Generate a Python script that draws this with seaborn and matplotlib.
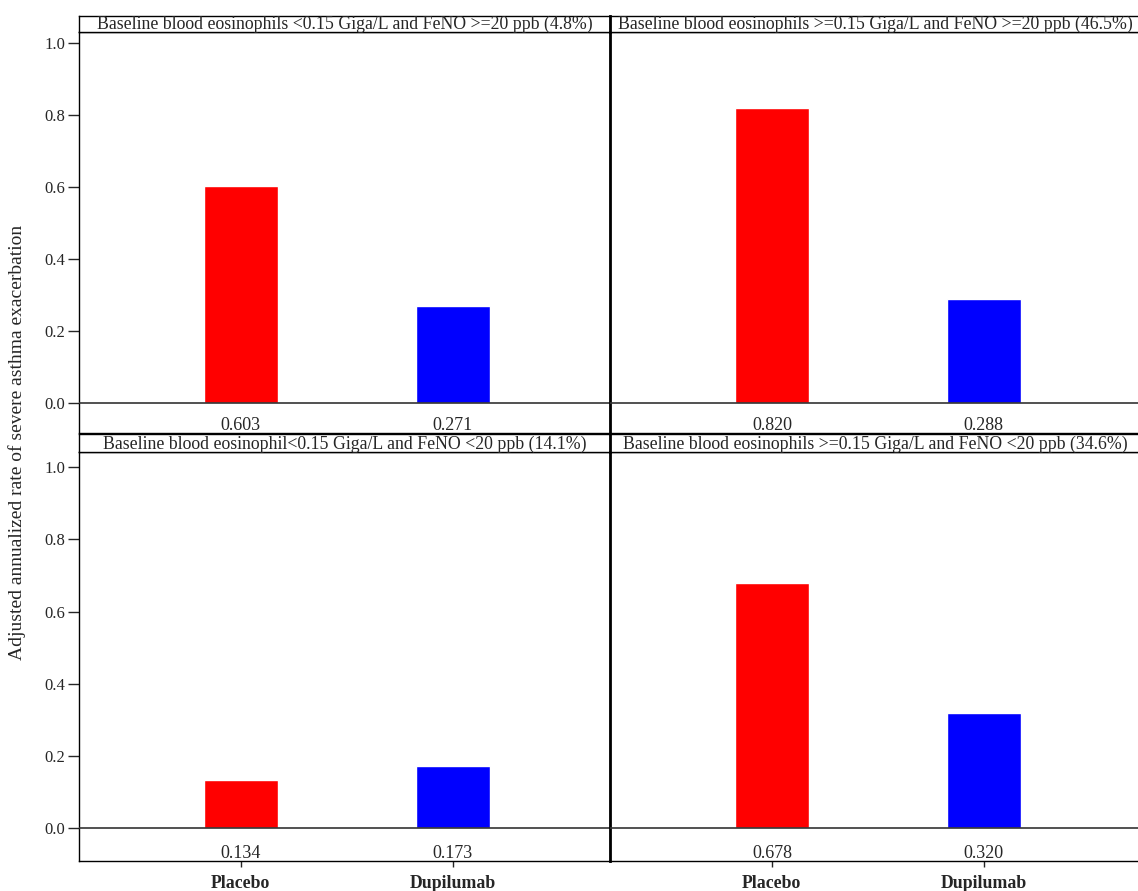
import pandas as pd
import matplotlib
matplotlib.use("Agg")
import matplotlib.pyplot as plt
import seaborn as sns

# data
treatments = ["Placebo", "Dupilumab"]
bar_colors = ["#ff0000", "#0000ff"]
panel_titles = [
    "Baseline blood eosinophils <0.15 Giga/L and FeNO >=20 ppb (4.8%)",
    "Baseline blood eosinophils >=0.15 Giga/L and FeNO >=20 ppb (46.5%)",
    "Baseline blood eosinophil<0.15 Giga/L and FeNO <20 ppb (14.1%)",
    "Baseline blood eosinophils >=0.15 Giga/L and FeNO <20 ppb (34.6%)",
]
rates_eos_low_feno_high = [0.603, 0.271]
rates_eos_high_feno_high = [0.820, 0.288]
rates_eos_low_feno_low = [0.134, 0.173]
rates_eos_high_feno_low = [0.678, 0.320]
y_ticks = [0.0, 0.2, 0.4, 0.6, 0.8, 1.0]
y_label = "Adjusted annualized rate of severe asthma exacerbation"

sns.set_style("white")
plt.rcParams["font.family"] = ["Liberation Serif", "DejaVu Serif"]

fig = plt.figure(figsize=(11.38, 8.91), dpi=100)

W = 1138.0
H = 891.0


def fx(px):
    return px / W


def fy(py):
    return 1 - py / H


panel_w = 531
# (left px, axes top px, axes bottom px, title top px, ylim, label y)
layout = [
    (79, 32, 433, 16, (-0.083, 1.031), -0.063),
    (610, 32, 433, 16, (-0.083, 1.031), -0.063),
    (79, 452, 861, 434, (-0.091, 1.042), -0.071),
    (610, 452, 861, 434, (-0.091, 1.042), -0.071),
]
all_rates = [rates_eos_low_feno_high, rates_eos_high_feno_high,
             rates_eos_low_feno_low, rates_eos_high_feno_low]

for i, (left, top, bottom, ttop, ylim, laby) in enumerate(layout):
    rates = all_rates[i]
    df = pd.DataFrame({"treatment": treatments, "rate": rates})

    # -----------------------------
    # bar panel
    # -----------------------------
    ax = fig.add_axes([fx(left), fy(bottom), fx(panel_w), (bottom - top) / H])
    sns.barplot(data=df, x="treatment", y="rate", hue="treatment",
                palette=bar_colors, width=0.347, saturation=1,
                legend=False, ax=ax)
    ax.set_xlim(-0.764, 1.742)
    ax.set_ylim(*ylim)
    ax.axhline(0, color="#333333", lw=1.2, zorder=3)
    for j, r in enumerate(rates):
        ax.text(j, laby, f"{r:.3f}", ha="center", va="center", fontsize=13)
    ax.set_xlabel("")
    ax.set_ylabel("")
    for s in ax.spines.values():
        s.set_color("black")
        s.set_linewidth(1.0)
    if i % 2 == 0:
        ax.set_yticks(y_ticks)
        ax.set_yticklabels([f"{t:.1f}" for t in y_ticks], fontsize=12)
        ax.tick_params(axis="y", left=True, length=8, width=1, pad=2)
    else:
        ax.set_yticks([])
        ax.spines["left"].set_linewidth(2.0)
    if i >= 2:
        ax.set_xticks([0, 1])
        ax.set_xticklabels(treatments, fontsize=12.8, fontweight="bold")
        ax.tick_params(axis="x", bottom=True, length=4, width=1, pad=6)
    else:
        ax.set_xticks([])

    # -----------------------------
    # title strip
    # -----------------------------
    tax = fig.add_axes([fx(left), fy(top), fx(panel_w), (top - ttop) / H])
    tax.set_xticks([])
    tax.set_yticks([])
    for s in tax.spines.values():
        s.set_color("black")
        s.set_linewidth(1.0)
    if i % 2 == 1:
        tax.spines["left"].set_linewidth(2.0)
    tax.text(0.5, 0.45, panel_titles[i], ha="center", va="center",
             fontsize=12.8, transform=tax.transAxes)

fig.text(fx(17), fy(442), y_label, rotation=90, ha="center", va="center",
         fontsize=14)

fig.savefig("out.png", dpi=100)
